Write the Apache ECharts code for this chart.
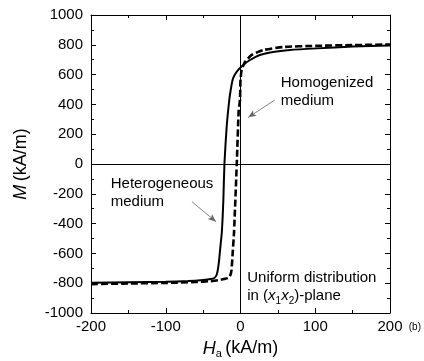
<!DOCTYPE html>
<html><head><meta charset="utf-8">
<script src="https://cdn.jsdelivr.net/npm/echarts@6/dist/echarts.min.js"></script>
<style>html,body{margin:0;padding:0;background:#fff}#c{width:424px;height:361px}</style>
</head><body><div id="c"></div>
<script>
// Heterogeneous medium (solid)
const hetH = [-200,-150,-100,-70,-50,-40,-35,-32,-30,-28.5,-27,-25,-23,-21.5,-18.5,-15,-13,-10.5,-7.5,-3,3.7,12.7,26,43.5,66,102,150,200];
const hetM = [-797,-794,-790,-785,-778,-772,-765,-745,-700,-640,-560,-460,-250,0,250,430,500,565,600,632,665,698,732,752,765,776,788,795];
// Homogenized medium (dashed)
const homH = [-200,-150,-100,-60,-40,-30,-22,-16,-13.5,-12,-10.5,-8.7,-5,-2.4,-0.7,0,1.6,6,15,30.5,57,100,150,200];
const homM = [-806,-802,-798,-792,-786,-780,-772,-764,-745,-711,-600,-463,0,362,430,564,631,685,732,765,785,793,798,802];
const xMin = -200, xMax = 200, xStep = 100;
const yMin = -1000, yMax = 1000, yStep = 200;

const FONT = "'Liberation Sans', Arial, sans-serif";
const zip = (a, b) => a.map((v, i) => [v, b[i]]);
const chart = echarts.init(document.getElementById('c'));

const baseAxis = {
  type: 'value',
  axisLine: { show: true, onZero: false, lineStyle: { color: '#000', width: 1 } },
  axisTick: { show: true, inside: true, length: 5, lineStyle: { color: '#000', width: 1 } },
  minorTick: { show: true, splitNumber: 2, length: 3, lineStyle: { color: '#000', width: 1 } },
  splitLine: { show: false },
  axisLabel: { color: '#000', fontSize: 15, fontFamily: FONT, formatter: v => String(v) }
};

chart.setOption({
  animation: false,
  backgroundColor: '#fff',
  grid: { left: 91, right: 34, top: 15, bottom: 48, outerBoundsMode: 'none', containLabel: false },
  xAxis: [
    Object.assign({}, baseAxis, { position: 'bottom', min: xMin, max: xMax, interval: xStep,
      axisLabel: Object.assign({}, baseAxis.axisLabel, { margin: 6, showMinLabel: true, showMaxLabel: true }),
      name: '{i|H}{s|a} {n|(kA/m)}', nameLocation: 'middle', nameGap: 25,
      nameTextStyle: { rich: {
        i: { fontStyle: 'italic', fontSize: 18, fontFamily: FONT, color: '#000' },
        s: { fontSize: 11, fontFamily: FONT, color: '#000', verticalAlign: 'bottom', padding: [10, 0, 0, 0] },
        n: { fontSize: 18, fontFamily: FONT, color: '#000' } } } }),
    Object.assign({}, baseAxis, { position: 'top', min: xMin, max: xMax, interval: xStep,
      axisLabel: { show: false } })
  ],
  yAxis: [
    Object.assign({}, baseAxis, { position: 'left', min: yMin, max: yMax, interval: yStep,
      axisLabel: Object.assign({}, baseAxis.axisLabel, { margin: 8 }),
      name: '{i|M} {n|(kA/m)}', nameLocation: 'middle', nameGap: 61,
      nameTextStyle: { rich: {
        i: { fontStyle: 'italic', fontSize: 18, fontFamily: FONT, color: '#000' },
        n: { fontSize: 18, fontFamily: FONT, color: '#000' } } } }),
    Object.assign({}, baseAxis, { position: 'right', min: yMin, max: yMax, interval: yStep,
      axisLabel: { show: false } })
  ],
  series: [
    {
      type: 'line', name: 'Heterogeneous medium', data: zip(hetH, hetM),
      showSymbol: false, smooth: 0.2,
      lineStyle: { color: '#000', width: 2 },
      markLine: {
        silent: true, symbol: ['none', 'none'], label: { show: false },
        lineStyle: { color: '#000', width: 1, type: 'solid' },
        data: [{ xAxis: 0 }, { yAxis: 0 }]
      }
    },
    {
      type: 'line', name: 'Homogenized medium', data: zip(homH, homM),
      showSymbol: false, smooth: 0.2,
      lineStyle: { color: '#000', width: 2.6, type: [7, 3] },
      markLine: {
        silent: true, symbol: ['none', 'arrow'], symbolSize: [5, 8], label: { show: false },
        lineStyle: { color: '#666', width: 0.8, type: 'solid' },
        data: [
          [{ coord: [46, 430] }, { coord: [10.4, 313] }],
          [{ coord: [-65, -253] }, { coord: [-32.8, -387] }]
        ]
      }
    }
  ]
});

const ann = [
  { h: 53.8, m: 485, text: 'Homogenized\nmedium' },
  { h: -173.6, m: -195, text: 'Heterogeneous\nmedium' },
  { h: 9, m: -826, text: 'Uniform distribution\nin ({i|x}{s|1}{i|x}{s|2})-plane' }
];
const rich = {
  i: { fontStyle: 'italic', fontSize: 15, fontFamily: FONT, fill: '#000' },
  s: { fontSize: 10, fontFamily: FONT, fill: '#000', padding: [10, 0, 0, 0] }
};
const g = ann.map(a => {
  const p = chart.convertToPixel({ xAxisIndex: 0, yAxisIndex: 0 }, [a.h, a.m]);
  return { type: 'text', x: p[0], y: p[1], silent: true,
    style: { text: a.text, fill: '#000', fontSize: 15, fontFamily: FONT, lineHeight: 18,
      align: 'left', verticalAlign: 'middle', rich: rich } };
});
g.push({ type: 'text', right: 3, top: 322, silent: true,
  style: { text: '(b)', fill: '#000', fontSize: 10, fontFamily: FONT } });
chart.setOption({ graphic: g });
</script></body></html>
